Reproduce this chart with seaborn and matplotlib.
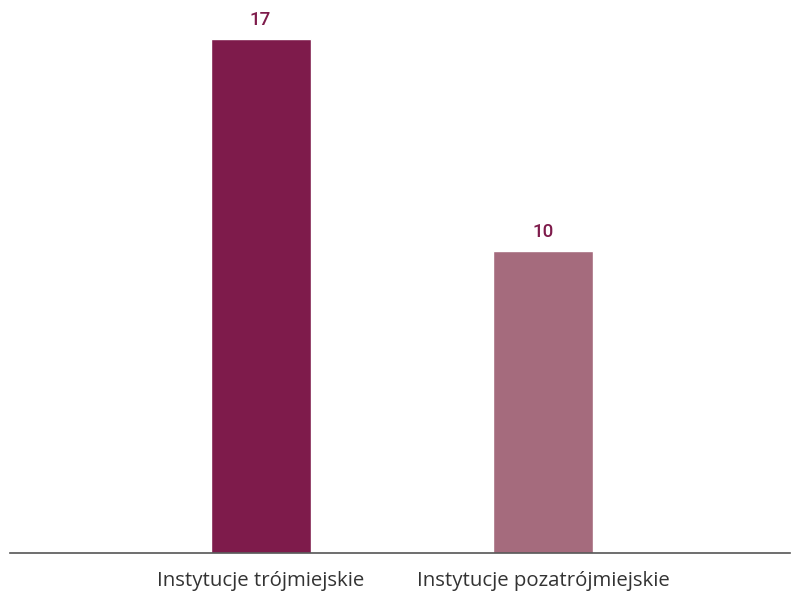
import matplotlib
matplotlib.use("Agg")
import matplotlib.pyplot as plt
import seaborn as sns
import pandas as pd

# data
categories = ["Instytucje trójmiejskie", "Instytucje pozatrójmiejskie"]
values = [17, 10]
colors = ["#7e1b4b", "#a56b7d"]

df = pd.DataFrame({"kategoria": categories, "liczba": values})

sns.set_style("white")
plt.rcParams["font.family"] = ["Open Sans", "DejaVu Sans"]

fig = plt.figure(figsize=(7.91, 5.91), dpi=100)
ax = fig.add_axes([10 / 791, 38 / 591, 780 / 791, 553 / 591])

sns.barplot(data=df, x="kategoria", y="liczba", hue="kategoria",
            palette=colors, width=0.354, legend=False, ax=ax, saturation=1)

ax.set_xlim(-0.887, 1.874)
ax.set_ylim(0, 18.29)

# value labels above bars
for i, v in enumerate(values):
    ax.text(i, v + 0.32, str(v), ha="center", va="bottom",
            fontsize=13.5, fontweight="medium", color="#7e1b4b",
            family=["Roboto", "DejaVu Sans"])

for s in ["top", "right", "left"]:
    ax.spines[s].set_visible(False)
ax.spines["bottom"].set_color("#555555")
ax.spines["bottom"].set_linewidth(1.2)
ax.set_yticks([])
ax.set_xlabel("")
ax.set_ylabel("")
ax.tick_params(axis="x", length=0, labelsize=14.7, labelcolor="#333333", pad=13)

fig.savefig("out.png", dpi=100)
